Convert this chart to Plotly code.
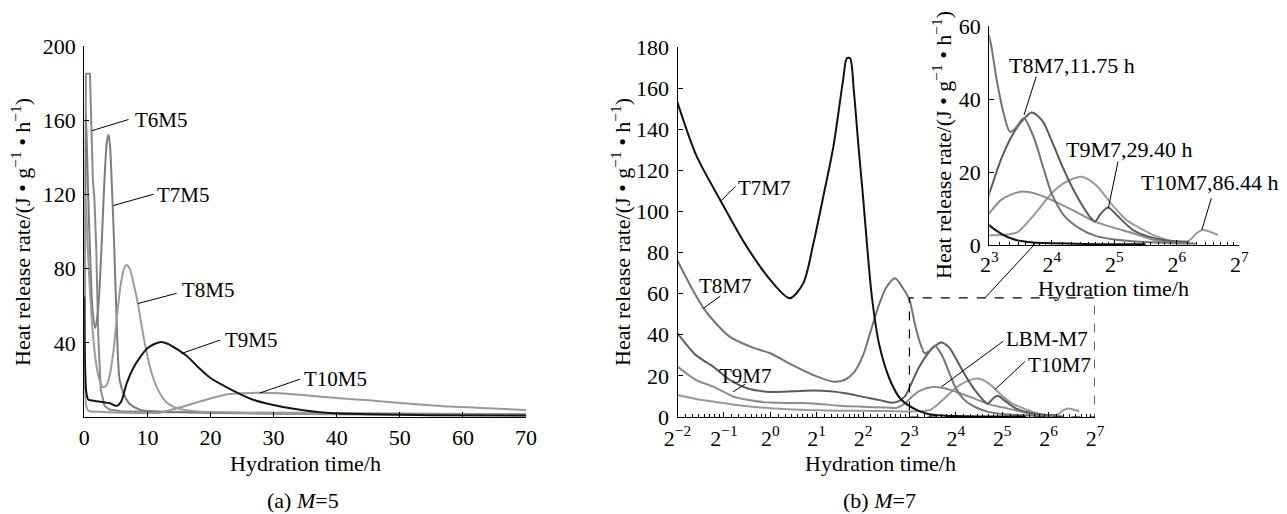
import math
import plotly.graph_objects as go

# ---------------- panel (a) M=5 : time in hours, heat release rate ----------------
T6M5_t = [0.05, 0.15, 0.25, 0.9, 1.0, 1.15, 1.35, 1.6, 1.9, 2.2, 2.6, 3.2, 4, 6, 10, 20, 40, 70]
T6M5_q = [20, 185, 185, 185, 170, 154, 128, 118, 90, 45, 15, 6, 4, 3, 3, 2.5, 2, 1.5]

T7M5_t = [0.05, 0.25, 0.45, 0.7, 1.0, 1.3, 1.74, 2.1, 2.5, 2.9, 3.3, 3.6, 3.85, 4.1, 4.4, 4.7, 5.1, 5.6, 6.3, 7.2, 8.8, 11, 15, 25, 40, 70]
T7M5_q = [30, 163, 140, 110, 80, 58, 48, 55, 75, 105, 135, 149, 152, 145, 122, 96, 55, 20, 12, 7, 4, 3, 2.5, 2, 1.5, 1]

T8M5_t = [0.05, 0.2, 0.5, 1.0, 1.5, 2.0, 2.5, 3.0, 3.5, 4.0, 4.6, 5.2, 5.8, 6.3, 6.7, 7.2, 7.8, 8.5, 9.3, 10.4, 11.5, 13, 15, 18, 22, 30, 45, 70]
T8M5_q = [15, 120, 95, 62, 40, 26, 19, 16, 17, 22, 35, 55, 72, 80, 82, 80, 72, 61, 45, 27, 16, 8, 4.5, 3, 2.5, 2, 1.5, 1]

T9M5_t = [0, 0.05, 0.3, 0.6, 1, 2, 3, 4, 5.1, 5.8, 6.7, 7.7, 8.8, 10, 11.2, 12.2, 13.2, 14.5, 16.2, 18, 20, 23.5, 27, 31.5, 35, 39.5, 45, 55, 70]
T9M5_q = [65, 40, 14, 9.5, 9, 8.5, 8, 7.5, 6, 8, 18, 26, 32, 37, 39.5, 40.4, 39.5, 37, 33, 27, 21, 14.4, 9, 5.4, 3.5, 2, 1.5, 1, 0.8]

T10M5_t = [0.05, 0.3, 0.6, 1, 2, 4, 6, 8, 10, 12, 13, 15, 17, 20, 23, 26.5, 31, 35, 40, 45, 50, 58, 64, 70]
T10M5_q = [20, 6, 3.5, 3, 2.8, 2.5, 2.3, 2.2, 2.1, 2.3, 3.2, 5, 7, 10, 12.4, 13, 12.8, 11.7, 10.2, 9, 7.6, 5.6, 4.7, 3.8]

# ---------------- panel (b) M=7 : time read on the log2 axis (exponent), rate ----------------
T7M7_e = [-2, -1.59, -1.08, -0.51, 0, 0.42, 0.71, 0.93, 1.15, 1.36, 1.57, 1.65, 1.72, 1.8, 1.9, 2.0, 2.1, 2.19, 2.35, 2.58, 2.8, 2.97, 3.2, 3.4, 3.7, 4.0, 4.5, 5.0, 5.5]
T7M7_q = [153, 127, 105.6, 83, 66.7, 57.8, 65, 84.5, 108, 131.5, 164, 174.5, 174.5, 159, 132, 107, 80, 58.5, 35, 18, 9, 5.8, 3, 1.5, 0.7, 0.5, 0.3, 0.2, 0.2]

T8M7_e = [-2, -1.7, -1.44, -1.15, -0.87, -0.4, 0, 0.5, 0.93, 1.37, 1.6, 1.79, 2.0, 2.15, 2.35, 2.5, 2.69, 2.85, 3.0, 3.12, 3.23, 3.33, 3.42, 3.55, 3.7, 3.85, 4.0, 4.2, 4.45, 4.7, 5.0, 5.5, 6.0, 6.3]
T8M7_q = [76, 63, 53, 45, 39, 34, 31, 25, 20.4, 17.2, 18, 21.3, 30, 40.7, 55, 63, 67.5, 63, 57, 45, 36, 31, 32, 34.7, 30, 22, 14, 8, 4.5, 2.5, 1.5, 0.8, 0.5, 0.4]

T9M7_e = [-2, -1.6, -1.23, -0.87, -0.5, 0, 0.5, 0.93, 1.3, 1.65, 2.0, 2.37, 2.6, 2.75, 2.9, 3.0, 3.2, 3.4, 3.55, 3.68, 3.85, 4.0, 4.17, 4.35, 4.5, 4.62, 4.69, 4.78, 4.9, 5.05, 5.3, 5.55, 5.78, 6.0, 6.2]
T9M7_q = [40.7, 30, 24.5, 18, 14, 12.2, 12.5, 12.9, 12.5, 11.4, 9.8, 8.2, 7, 7.5, 10, 14.2, 24, 31, 34.5, 36.3, 34, 28.5, 21.5, 15, 10.5, 7.5, 6.4, 8.5, 10.3, 8, 4.1, 2.3, 1.4, 1.0, 0.9]

LBM_e = [-2, -1.6, -1.23, -0.8, -0.4, 0, 0.5, 0.93, 1.5, 2.0, 2.5, 2.73, 2.9, 3.0, 3.2, 3.5, 3.75, 4.0, 4.35, 4.69, 5.0, 5.3, 5.55, 5.8, 6.0, 6.2]
LBM_q = [24.5, 18, 14.8, 10, 8, 7, 6.8, 6.6, 5.5, 5, 4.6, 4.5, 6.5, 8.7, 12.5, 14.6, 14, 12.3, 9.4, 6.4, 4.7, 3.2, 1.8, 0.9, 0.6, 0.5]

T10M7_e = [-2, -1.6, -1.23, -0.6, 0, 0.5, 1, 1.5, 2, 2.5, 3.0, 3.3, 3.45, 3.6, 3.8, 4.0, 4.2, 4.48, 4.7, 4.99, 5.2, 5.47, 5.7, 5.95, 6.1, 6.22, 6.32, 6.42, 6.55, 6.66]
T10M7_q = [10.7, 8.8, 7.5, 5.5, 4.3, 3.6, 3.3, 3.1, 3.0, 2.9, 2.7, 2.9, 3.5, 6, 10, 14.2, 17, 18.7, 16.5, 10.5, 6.8, 4.1, 2.2, 0.9, 0.5, 1.5, 3.3, 4.1, 3.5, 2.7]

A_XTICKS = [0, 10, 20, 30, 40, 50, 60, 70]
A_YTICKS = [40, 80, 120, 160, 200]
B_EXPS = [-2, -1, 0, 1, 2, 3, 4, 5, 6, 7]
B_YTICKS = [0, 20, 40, 60, 80, 100, 120, 140, 160, 180]
INSET_EXPS = [3, 4, 5, 6, 7]
INSET_YTICKS = [0, 20, 40, 60]

FONT = "Liberation Serif"
W, H = 1287, 514


def hours(exps):
    return [2 ** e for e in exps]


def sup_label(e):
    s = str(e).replace("-", "\u2212")
    return "2<sup>%s</sup>" % s


fig = go.Figure()

a_series = [
    ("T6M5", T6M5_t, T6M5_q, "#8a8a8a", "linear"),
    ("T7M5", T7M5_t, T7M5_q, "#7c7c7c", "spline"),
    ("T8M5", T8M5_t, T8M5_q, "#9c9c9c", "spline"),
    ("T10M5", T10M5_t, T10M5_q, "#9a9a9a", "spline"),
    ("T9M5", T9M5_t, T9M5_q, "#151515", "spline"),
]
for name, t, q, c, shp in a_series:
    fig.add_trace(go.Scatter(x=t, y=q, mode="lines", name=name, xaxis="x", yaxis="y",
                             line=dict(color=c, width=2, shape=shp, smoothing=0.8)))

b_series = [
    ("T10M7", T10M7_e, T10M7_q, "#9a9a9a"),
    ("LBM-M7", LBM_e, LBM_q, "#8e8e8e"),
    ("T9M7", T9M7_e, T9M7_q, "#5c5c5c"),
    ("T8M7", T8M7_e, T8M7_q, "#747474"),
    ("T7M7", T7M7_e, T7M7_q, "#111111"),
]
for xa, ya in (("x2", "y2"), ("x3", "y3")):
    for name, e, q, c in b_series:
        fig.add_trace(go.Scatter(x=hours(e), y=q, mode="lines", name=name, xaxis=xa, yaxis=ya,
                                 line=dict(color=c, width=2, shape="spline", smoothing=0.8)))


def axis_common(standoff=0):
    return dict(showline=True, linecolor="black", linewidth=1.3, ticks="inside", ticklen=5,
                tickcolor="black", tickwidth=1, showgrid=False, zeroline=False, automargin=False,
                tickfont=dict(family=FONT, size=22, color="black"), ticklabelstandoff=standoff)


def minor_vals(exps):
    vals = []
    for n in exps[:-1]:
        for k in range(1, 8):
            vals.append(2 ** n * (1 + k / 8))
    return vals


fig.update_layout(
    template="none",
    width=W, height=H, margin=dict(l=0, r=0, t=0, b=0, pad=0),
    paper_bgcolor="white", plot_bgcolor="rgba(0,0,0,0)", showlegend=False,
    font=dict(family=FONT, size=21, color="black"),
    xaxis=dict(domain=[84.3 / W, 526 / W], range=[0, 70], anchor="y", tickvals=A_XTICKS, **axis_common(0)),
    yaxis=dict(domain=[1 - 417 / H, 1 - 46 / H], range=[0, 200], anchor="x", tickvals=A_YTICKS, **axis_common(3)),
    xaxis2=dict(domain=[677.5 / W, 1095 / W], type="log", range=[math.log10(0.25), math.log10(128)], anchor="y2",
                tickvals=hours(B_EXPS), ticktext=[sup_label(e) for e in B_EXPS],
                minor=dict(tickvals=minor_vals(B_EXPS), ticks="inside", ticklen=3, tickcolor="black"),
                **axis_common(1)),
    yaxis2=dict(domain=[1 - 417 / H, 1 - 47 / H], range=[0, 180], anchor="x2", tickvals=B_YTICKS, **axis_common(3)),
    xaxis3=dict(domain=[989.3 / W, 1239.3 / W], type="log", range=[math.log10(8), math.log10(128)], anchor="y3",
                tickvals=hours(INSET_EXPS), ticktext=[sup_label(e) for e in INSET_EXPS],
                minor=dict(tickvals=minor_vals(INSET_EXPS), ticks="inside", ticklen=3, tickcolor="black"),
                **axis_common(-1)),
    yaxis3=dict(domain=[1 - 245 / H, 1 - 26 / H], range=[0, 60], anchor="x3", tickvals=INSET_YTICKS, **axis_common(3)),
)

# zoom box in panel (b) for the inset range
fig.add_shape(type="rect", xref="x2", yref="y2", x0=8, x1=128, y0=0, y1=58,
              line=dict(color="black", width=1.2, dash="dash"))

ann = []


def leader(xr, yr, x, y, dx, dy):
    ann.append(dict(xref=xr, yref=yr, x=x, y=y, ax=dx, ay=dy, text="", showarrow=True,
                    arrowhead=0, arrowwidth=1, arrowcolor="black", standoff=0, startstandoff=0))


def label(xr, yr, x, y, text, dx, dy, size=21):
    ann.append(dict(xref=xr, yref=yr, x=x, y=y, text=text, showarrow=False, xshift=dx, yshift=-dy,
                    font=dict(family=FONT, size=size, color="black")))


# panel (a) labels: (text, tip time, tip rate, leader dx, dy, text dx, dy)
a_labels = [
    ("T6M5", 1.17, 154.3, 38.3, -11.7, 70, -11),
    ("T7M5", 4.59, 114, 41.7, -11.7, 70, -10.5),
    ("T8M5", 8.54, 61.2, 40, -10.6, 70, -13),
    ("T9M5", 15.4, 34.2, 40, -14, 70, -14),
    ("T10M5", 27.8, 12.9, 41.7, -14.4, 76, -14),
]
for txt, t, q, ldx, ldy, tdx, tdy in a_labels:
    leader("x", "y", t, q, ldx, ldy)
    label("x", "y", t, q, txt, tdx, tdy)

b_labels = [
    ("T7M7", -1.08, 104.8, 16.7, -16.7, 44, -14),
    ("T8M7", -1.44, 52.9, 18.4, -13.3, 22, -21.8),
    ("T9M7", -0.80, 12.3, 13.4, -8.4, 12, -16.2),
    ("LBM-M7", 3.69, 14.7, 63.3, -46.7, 106, -47.7),
    ("T10M7", 4.85, 13.5, 31.4, -29.3, 64, -24.3),
]
for txt, e, q, ldx, ldy, tdx, tdy in b_labels:
    leader("x2", "y2", e * math.log10(2), q, ldx, ldy)
    label("x2", "y2", e * math.log10(2), q, txt, tdx, tdy)

inset_labels = [
    ("T8M7,11.75 h", 3.555, 35.6, 12.7, -40, 48.5, -50),
    ("T9M7,29.40 h", 4.904, 10.05, 10, -48.3, 20.7, -59.3),
    ("T10M7,86.44 h", 6.40, 4.1, 10, -33.3, 8.3, -48),
]
for txt, e, q, ldx, ldy, tdx, tdy in inset_labels:
    leader("x3", "y3", e * math.log10(2), q, ldx, ldy)
    label("x3", "y3", e * math.log10(2), q, txt, tdx, tdy, size=22)

# connector from the zoom box to the inset
leader("x2", "y2", 4.63 * math.log10(2), 58, 51, -55)

YT = "Heat release rate/(J \u2022 g<sup>\u22121</sup> \u2022 h<sup>\u22121</sup>)"
titles = [
    ("Hydration time/h", 305, 463, 0),
    ("Hydration time/h", 880, 463, 0),
    ("Hydration time/h", 1113, 288, 0),
    (YT, 21, 232, -90),
    (YT, 621, 232, -90),
    (YT, 942, 145, -90),
    ("(a) <i>M</i>=5", 303, 500, 0),
    ("(b) <i>M</i>=7", 879, 500, 0),
]
for txt, px, py, ang in titles:
    ann.append(dict(xref="paper", yref="paper", x=px / W, y=1 - py / H, text=txt, showarrow=False,
                    textangle=ang, xanchor="center", yanchor="middle",
                    font=dict(family=FONT, size=22, color="black")))

fig.update_layout(annotations=ann)

fig.write_html("out.html", config={"displayModeBar": False},
               post_script="document.body.style.margin='0px';")
